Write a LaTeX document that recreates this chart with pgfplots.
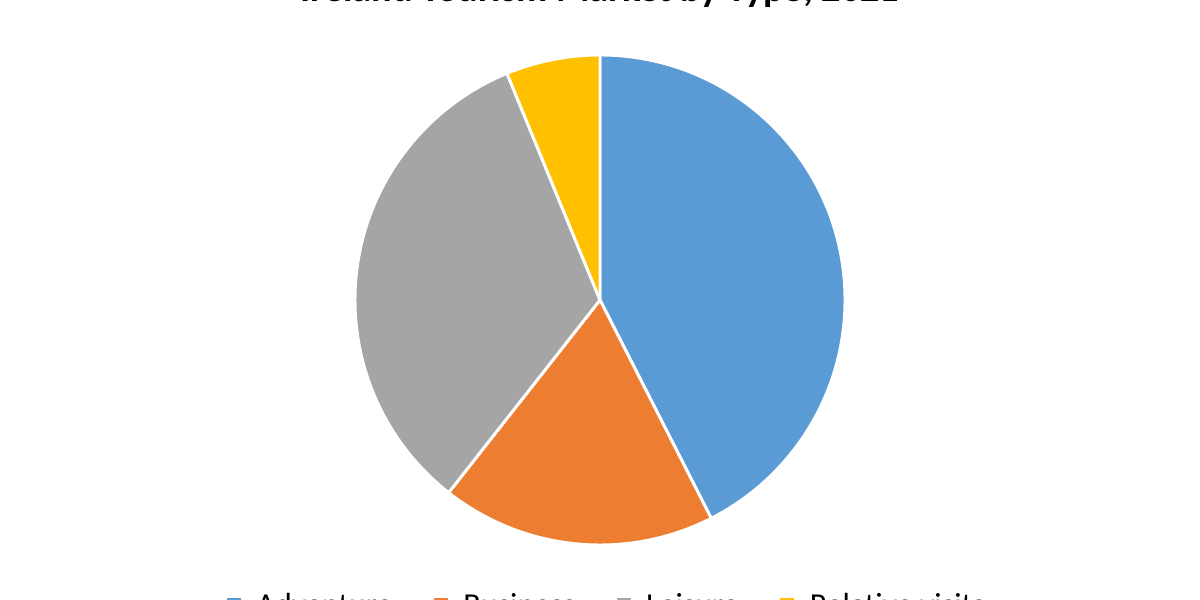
\documentclass[border=0pt]{standalone}
\usepackage{fontspec}
\setmainfont{Carlito}
\usepackage{pgfplots}
\usepackage{pgfplotstable}
\pgfplotsset{compat=1.18}
\definecolor{cAdv}{HTML}{5B9BD5}
\definecolor{cBus}{HTML}{ED7D31}
\definecolor{cLei}{HTML}{A5A5A5}
\definecolor{cRel}{HTML}{FFC000}
\pgfplotstableread{
name value
Adventure 42.5
Business 18.1
Leisure 33.2
Relative 6.2
}\pietable
\begin{document}
\begin{tikzpicture}
\pgfplotstablegetelem{0}{value}\of\pietable \let\vA\pgfplotsretval
\pgfplotstablegetelem{1}{value}\of\pietable \let\vB\pgfplotsretval
\pgfplotstablegetelem{2}{value}\of\pietable \let\vC\pgfplotsretval
\pgfplotstablegetelem{3}{value}\of\pietable \let\vD\pgfplotsretval
\pgfmathsetmacro\aA{90}
\pgfmathsetmacro\aB{\aA-3.6*\vA}
\pgfmathsetmacro\aC{\aB-3.6*\vB}
\pgfmathsetmacro\aD{\aC-3.6*\vC}
\pgfmathsetmacro\aE{\aD-3.6*\vD}
\path[use as bounding box] (0,0) rectangle (900pt,450pt);
\clip (0,0) rectangle (900pt,450pt);
\begin{axis}[
  at={(0,0)}, anchor=south west,
  x=0.75pt, y=0.75pt,
  xmin=0, xmax=1200, ymin=0, ymax=600,
  hide axis,
  clip=false,
  title={Ireland Tourism Market by Type, 2021},
  title style={at={(0.5,0.9733)}, anchor=south, inner sep=0pt,
    font=\fontsize{28.7}{34}\selectfont\bfseries},
  legend columns=-1,
  legend cell align=left,
  legend style={at={(axis cs:227,7)}, anchor=north west, draw=none, fill=none,
    inner sep=0pt, outer sep=0pt,
    font=\fontsize{24}{28}\selectfont,
    nodes={inner sep=0pt},
    /tikz/every odd column/.append style={column sep=12pt},
    /tikz/every even column/.append style={column sep=31pt}},
  legend image code/.code={\fill[#1] (0pt,-4.9pt) rectangle (9.75pt,4.9pt);},
]
\addlegendimage{cAdv}\addlegendentry{Adventure}
\addlegendimage{cBus}\addlegendentry{Business}
\addlegendimage{cLei}\addlegendentry{Leisure}
\addlegendimage{cRel}\addlegendentry{Relative visits}
\filldraw[fill=cAdv, draw=white, line width=2.2pt, line join=round]
  (axis cs:600,300) -- (axis cs:{600+245*cos(\aA)},{300+245*sin(\aA)})
  arc[start angle=\aA, end angle=\aB, radius=183.75pt] -- cycle;
\filldraw[fill=cBus, draw=white, line width=2.2pt, line join=round]
  (axis cs:600,300) -- (axis cs:{600+245*cos(\aB)},{300+245*sin(\aB)})
  arc[start angle=\aB, end angle=\aC, radius=183.75pt] -- cycle;
\filldraw[fill=cLei, draw=white, line width=2.2pt, line join=round]
  (axis cs:600,300) -- (axis cs:{600+245*cos(\aC)},{300+245*sin(\aC)})
  arc[start angle=\aC, end angle=\aD, radius=183.75pt] -- cycle;
\filldraw[fill=cRel, draw=white, line width=2.2pt, line join=round]
  (axis cs:600,300) -- (axis cs:{600+245*cos(\aD)},{300+245*sin(\aD)})
  arc[start angle=\aD, end angle=\aE, radius=183.75pt] -- cycle;
\end{axis}
\end{tikzpicture}
\end{document}
